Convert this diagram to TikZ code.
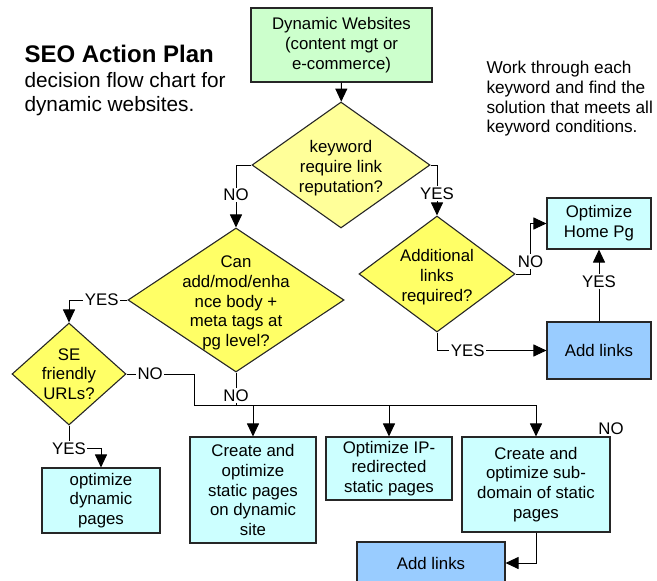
\documentclass[tikz,border=0pt]{standalone}
\usepackage{fontspec}
\setmainfont{Liberation Sans}
\usetikzlibrary{shapes.geometric,arrows.meta}

\definecolor{sitegreen}{HTML}{CCFFCC}
\definecolor{palequest}{HTML}{FFFF99}
\definecolor{questyellow}{HTML}{FFFF66}
\definecolor{pagecyan}{HTML}{CCFFFF}
\definecolor{linkblue}{HTML}{99CCFF}

\tikzset{
  box/.style={draw=black!85, line width=1.1pt, fill=pagecyan, inner sep=2pt},
  dia/.style={diamond, draw=black!85, line width=1.1pt, fill=questyellow, inner sep=0pt},
  lbl/.style={fill=white, inner sep=1.5pt},
  arr/.style={-{Triangle[length=13pt,width=12pt]}}
}

\begin{document}
\begin{tikzpicture}[x=1pt,y=-1pt,line width=1pt,
    every node/.style={font=\fontsize{16.8}{19.7}\selectfont, align=center}]
  \useasboundingbox (0,0) rectangle (657,581);

  % headings
  \node[anchor=base west, align=left, inner sep=0pt, font=\fontsize{24}{28}\selectfont\bfseries] (title) at (24,62) {SEO Action Plan};
  \node[anchor=base west, align=left, inner sep=0pt, font=\fontsize{20.8}{24}\selectfont] (sub) at (24,87) {decision flow chart for};
  \node[anchor=base west, align=left, inner sep=0pt, font=\fontsize{20.8}{24}\selectfont] (sub2) at (24,111) {dynamic websites.};
  \node[anchor=north west, align=left, inner sep=0pt, font=\fontsize{17.2}{19.6}\selectfont] (note) at (486,61) {Work through each\\keyword and find the\\solution that meets all\\keyword conditions.};

  % boxes
  \node[box, fill=sitegreen, minimum width=181, minimum height=74] (site) at (341.5,45) {Dynamic Websites\\(content mgt or\\e-commerce)};
  \node[box, minimum width=104, minimum height=51] (home) at (599,223.5) {Optimize\\Home Pg};
  \node[box, fill=linkblue, minimum width=104, minimum height=57] (links) at (599,350.5) {Add links};
  \node[box, minimum width=118, minimum height=65] (dyn) at (101,500.5) {optimize\\dynamic\\pages};
  \node[box, minimum width=126, minimum height=106] (stat) at (253,490) {Create and\\optimize\\static pages\\on dynamic\\site};
  \node[box, minimum width=126, minimum height=63] (ip) at (389,468.5) {Optimize IP-\\redirected\\static pages};
  \node[box, minimum width=148, minimum height=95] (subdom) at (536,484.5) {Create and\\optimize sub-\\domain of static\\pages};
  \node[box, fill=linkblue, minimum width=148, minimum height=42] (links2) at (431,563) {Add links};
  \node (stray) at (611,429) {NO};

  % decisions
  \node[dia, fill=palequest, minimum width=178, minimum height=126,
        label={[yshift=-3pt]center:keyword\\require link\\reputation?}] (kw) at (341,165) {};
  \node[dia, minimum width=216, minimum height=144,
        label={[yshift=-3pt]center:Can\\add/mod/enha\\nce body +\\meta tags at\\pg level?}] (tags) at (236,300) {};
  \node[dia, minimum width=156, minimum height=116,
        label={[yshift=-3pt]center:Additional\\links\\required?}] (chk) at (437,274) {};
  \node[dia, minimum width=114, minimum height=102,
        label={center:SE\\friendly\\URLs?}] (sel) at (69,374) {};

  \coordinate (busL) at (194,405);
  \coordinate (busR) at (536,405);

  % connectors
  \draw[arr] (site) -- (kw);
  \draw[arr] (kw.west) -| node[lbl, pos=0.74]{NO} (tags.north);
  \draw[arr] (kw.east) -| node[lbl, pos=0.78]{YES} (chk.north);
  \draw[arr] (chk.east) -- ++(15,0) |- node[lbl, pos=0.12]{NO} (home.west);
  \draw[arr] (chk.south) |- node[lbl, pos=0.64]{YES} (links.west);
  \draw[arr] (links) -- node[lbl, pos=0.55]{YES} (home);
  \draw[arr] (tags.west) -| node[lbl, pos=0.22]{YES} (sel.north);
  \draw (sel.east) -- node[lbl, pos=0.35]{NO} (sel.east -| busL) -- (busL) -- (busR);
  \draw (tags.south) -- node[lbl, pos=0.72]{NO} (tags.south |- busL);
  \draw[arr] (stat.north |- busL) -- (stat.north);
  \draw[arr] (ip.north |- busL) -- (ip.north);
  \draw[arr] (busR) -- (subdom.north);
  \draw[arr] (sel.south) -- ++(0,23) node[lbl]{YES} -| (dyn.north);
  \draw[arr] (subdom.south) |- (links2.east);
\end{tikzpicture}
\end{document}
